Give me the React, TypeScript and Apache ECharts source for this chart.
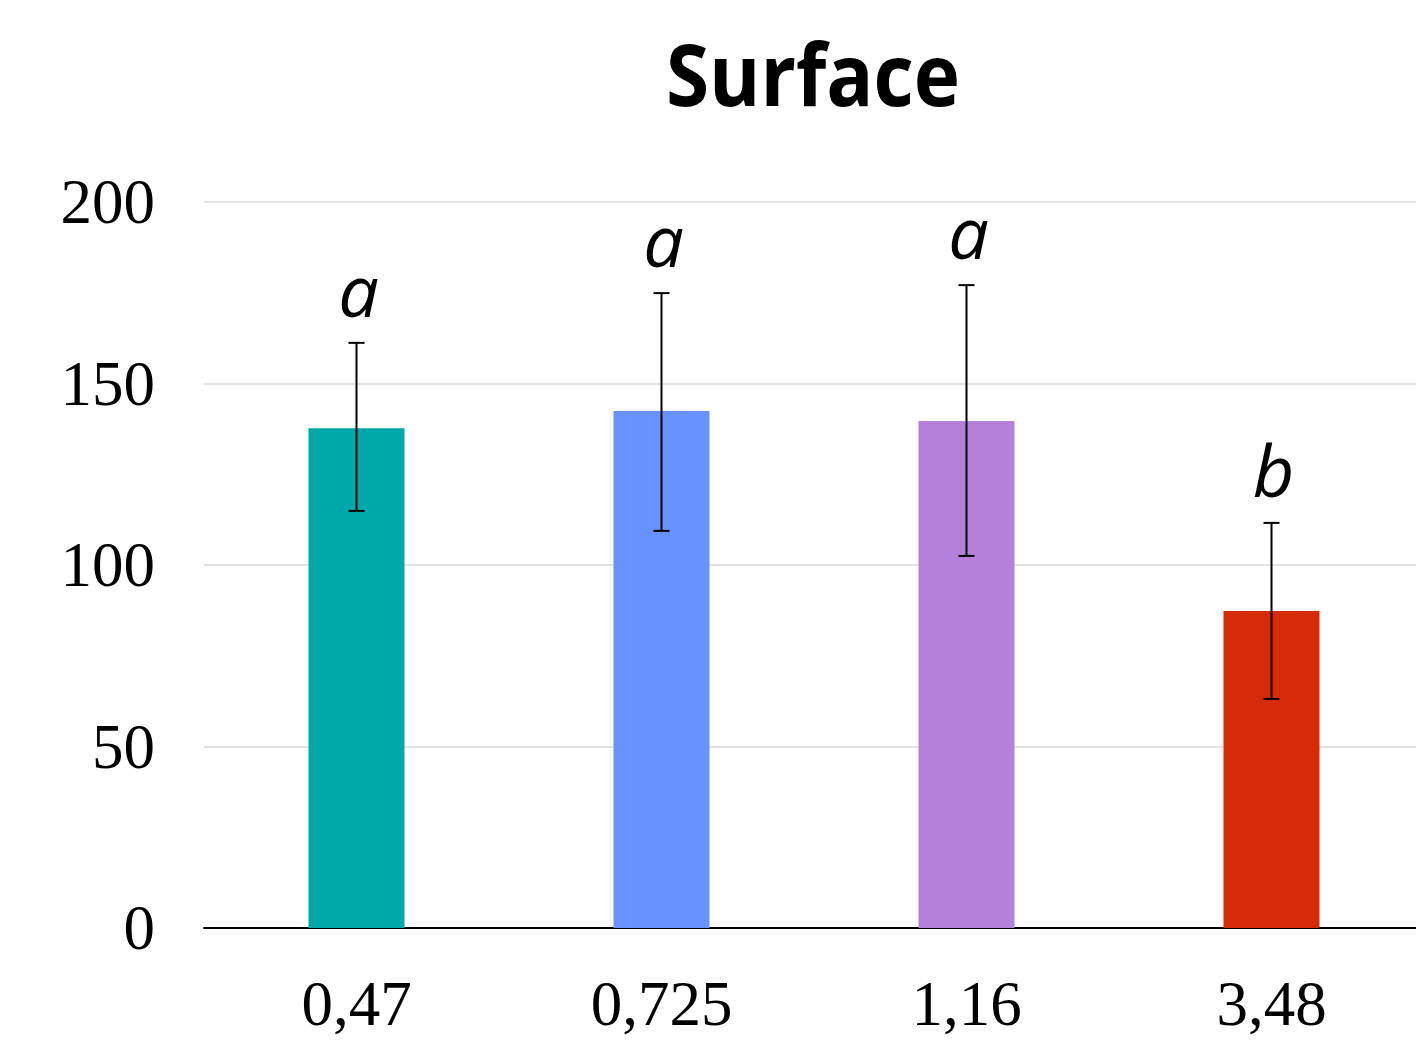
import React, { useEffect, useRef } from "react";
import * as echarts from "echarts";

const categories = ["0,47", "0,725", "1,16", "3,48"];
const means = [137.7, 142.4, 139.7, 87.3];
const errLow = [114.9, 109.4, 102.5, 63.1];
const errHigh = [161.2, 174.9, 177.1, 111.6];
const letters = ["a", "a", "a", "b"];
const colors = ["#00A9A9", "#6792FF", "#B480DA", "#D72A08"];
const yTicks = { min: 0, max: 200, interval: 50 };
const titleText = "Surface";

export default function App() {
  const ref = useRef<HTMLDivElement>(null);
  useEffect(() => {
    if (!ref.current) return;
    const chart = echarts.init(ref.current, null, { renderer: "svg" });
    const errData = categories.map((_, i) => [i, errLow[i], errHigh[i]]);
    chart.setOption({
      animation: false,
      backgroundColor: "#ffffff",
      graphic: [
        {
          type: "text",
          x: 813,
          y: 73,
          scaleX: 0.91,
          style: {
            text: titleText,
            fontFamily: "Open Sans",
            fontWeight: "bold",
            fontSize: 86,
            fill: "#000",
            align: "center",
            verticalAlign: "middle",
          },
        },
      ],
      grid: { left: 204, top: 202, width: 1220, height: 726, containLabel: false },
      xAxis: {
        type: "category",
        data: categories,
        boundaryGap: true,
        axisLine: { show: true, lineStyle: { color: "#000", width: 2 } },
        axisTick: { show: false },
        axisLabel: {
          margin: 44,
          fontFamily: "Liberation Serif",
          fontSize: 63,
          color: "#000",
        },
      },
      yAxis: {
        type: "value",
        min: yTicks.min,
        max: yTicks.max,
        interval: yTicks.interval,
        axisLine: { show: false },
        axisTick: { show: false },
        splitLine: { lineStyle: { color: "#E3E3E3", width: 2 } },
        axisLabel: {
          margin: 49,
          fontFamily: "Liberation Serif",
          fontSize: 63,
          color: "#000",
          padding: [8, 0, 0, 0],
        },
      },
      series: [
        {
          type: "bar",
          data: means.map((v, i) => ({ value: v, itemStyle: { color: colors[i] } })),
          barWidth: 96,
        },
        {
          type: "custom",
          data: errData,
          z: 10,
          renderItem: (params: any, api: any) => {
            const x = api.value(0);
            const lo = api.coord([x, api.value(1)]);
            const hi = api.coord([x, api.value(2)]);
            const cx = lo[0];
            const hw = 8;
            const style = { stroke: "#000", lineWidth: 2 };
            return {
              type: "group",
              children: [
                { type: "line", shape: { x1: cx, y1: hi[1], x2: cx, y2: lo[1] }, style },
                { type: "line", shape: { x1: cx - hw, y1: hi[1], x2: cx + hw, y2: hi[1] }, style },
                { type: "line", shape: { x1: cx - hw, y1: lo[1], x2: cx + hw, y2: lo[1] }, style },
                {
                  type: "text",
                  x: cx + 2,
                  y: hi[1] - 18,
                  style: {
                    text: letters[params.dataIndex],
                    fontFamily: "Open Sans",
                    fontStyle: "italic",
                    fontSize: 72,
                    fill: "#000",
                    align: "center",
                    verticalAlign: "bottom",
                  },
                },
              ],
            };
          },
        },
      ],
    });
    return () => chart.dispose();
  }, []);
  return (
    <div style={{ position: "absolute", left: 0, top: 0, width: 1416, height: 1045, overflow: "hidden" }}>
      <div ref={ref} style={{ width: 1440, height: 1045 }} />
    </div>
  );
}
